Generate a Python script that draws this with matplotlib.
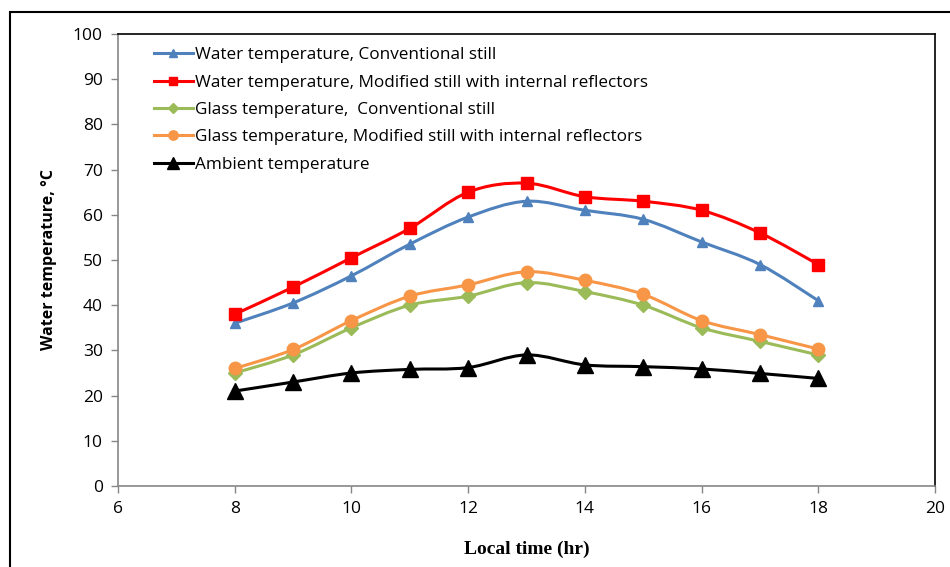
import numpy as np
import matplotlib
matplotlib.use('Agg')
import matplotlib.pyplot as plt
from matplotlib.path import Path
from matplotlib.patches import PathPatch, Rectangle
from matplotlib.lines import Line2D

# Data
hours = [8, 9, 10, 11, 12, 13, 14, 15, 16, 17, 18]
water_conv = [36, 40.5, 46.5, 53.5, 59.5, 63, 61, 59, 54, 49, 41]
water_mod = [38, 44, 50.5, 57, 65, 67, 64, 63, 61, 56, 49]
glass_conv = [25, 29, 35, 40, 42, 45, 43, 40, 35, 32, 29]
glass_mod = [26, 30.2, 36.6, 42, 44.5, 47.4, 45.5, 42.4, 36.6, 33.5, 30.3]
ambient = [21, 23, 25, 25.8, 26.2, 29, 26.8, 26.4, 25.9, 24.9, 23.8]

labels = ['Water temperature, Conventional still',
          'Water temperature, Modified still with internal reflectors',
          'Glass temperature,  Conventional still',
          'Glass temperature, Modified still with internal reflectors',
          'Ambient temperature']
colors = ['#4F81BD', '#FF0000', '#9BBB59', '#F79646', '#000000']
markers = ['^', 's', 'D', 'o', '^']
msizes = [7, 8, 7, 9, 11]


def smooth_path(x, y, t=1 / 6):
    # Excel-like smoothed line: cubic Bezier segments (Catmull-Rom control points)
    x = np.asarray(x, float)
    y = np.asarray(y, float)
    verts = [(x[0], y[0])]
    codes = [Path.MOVETO]
    n = len(x)
    for i in range(n - 1):
        x0, y0 = (x[i - 1], y[i - 1]) if i > 0 else (x[i], y[i])
        x3, y3 = (x[i + 2], y[i + 2]) if i + 2 < n else (x[i + 1], y[i + 1])
        c1 = (x[i] + (x[i + 1] - x0) * t, y[i] + (y[i + 1] - y0) * t)
        c2 = (x[i + 1] - (x3 - x[i]) * t, y[i + 1] - (y3 - y[i]) * t)
        verts += [c1, c2, (x[i + 1], y[i + 1])]
        codes += [Path.CURVE4] * 3
    return Path(verts, codes)


fig = plt.figure(figsize=(9.5, 5.67), dpi=100)
ax = fig.add_axes([118 / 950, 1 - 486 / 567, (935 - 118) / 950, (486 - 34) / 567])

# outer chart border (cut off at right and bottom like the reference)
fig.patches.append(Rectangle((10 / 950, -0.05), 1.2, 1 - 12 / 567 + 0.05,
                             transform=fig.transFigure, fill=False,
                             edgecolor='black', linewidth=1.5))

series = [water_conv, water_mod, glass_conv, glass_mod, ambient]
handles = []
for vals, c, m, ms, lab in zip(series, colors, markers, msizes, labels):
    ax.add_patch(PathPatch(smooth_path(hours, vals), facecolor='none',
                           edgecolor=c, linewidth=2.2, zorder=3))
    ax.plot(hours, vals, linestyle='none', marker=m, color=c,
            markersize=ms, zorder=4)
    handles.append(Line2D([], [], color=c, linewidth=2.2, marker=m,
                          markersize=ms * 0.75))

ax.set_xlim(6, 20)
ax.set_ylim(0, 100)
ax.set_xticks(range(6, 21, 2))
ax.set_yticks(range(0, 101, 10))

for s in ['left', 'bottom']:
    ax.spines[s].set_color('#868686')
    ax.spines[s].set_linewidth(1.2)
for s in ['top', 'right']:
    ax.spines[s].set_color('black')
    ax.spines[s].set_linewidth(1.2)

ax.tick_params(direction='out', length=5, color='#868686', width=1,
               labelsize=12.5, pad=6)
for lab in ax.get_xticklabels() + ax.get_yticklabels():
    lab.set_fontfamily('Open Sans')

ax.set_xlabel('Local time (hr)', fontsize=14, fontweight='bold',
              fontfamily='Liberation Serif', labelpad=17)
ax.set_ylabel('Water temperature, °C', fontsize=11.5, fontweight='bold',
              fontfamily='Open Sans', labelpad=11)

leg = ax.legend(handles, labels, loc='upper left', bbox_to_anchor=(0.025, 1.005),
                frameon=False, prop={'family': 'Open Sans', 'size': 12.3},
                handlelength=2.3, handletextpad=0.1, labelspacing=0.67)

plt.savefig('out.png', dpi=100)
